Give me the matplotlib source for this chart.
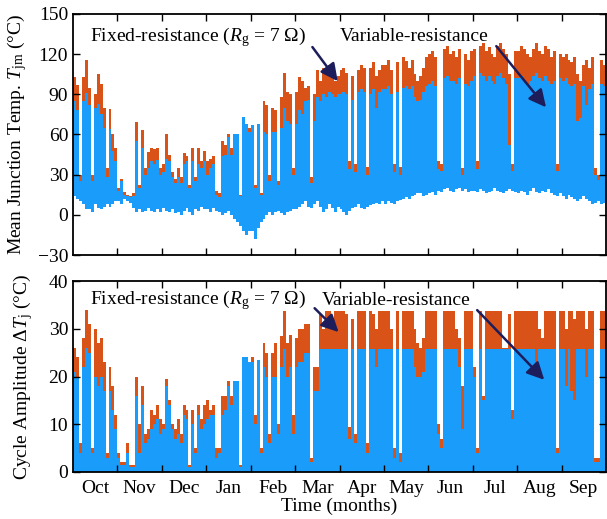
import numpy as np
import matplotlib.pyplot as plt

plt.rcParams['font.family'] = ['Liberation Serif', 'DejaVu Serif']
plt.rcParams['mathtext.fontset'] = 'custom'
plt.rcParams['mathtext.rm'] = 'Liberation Serif'
plt.rcParams['mathtext.it'] = 'Liberation Serif:italic'
plt.rcParams['font.size'] = 14

months = ['Oct', 'Nov', 'Dec', 'Jan', 'Feb', 'Mar',
          'Apr', 'May', 'Jun', 'Jul', 'Aug', 'Sep']

# 2-day peaks / troughs, 15 per month (Oct -> Sep)
tjm_fixed = [
    103, 97, 30, 103, 116, 95, 30, 90, 105, 98, 80, 35, 79, 60, 50,
    20, 27, 17, 15, 14, 16, 69, 22, 63, 35, 47, 50, 49, 50, 35,
    38, 60, 45, 32, 27, 35, 28, 46, 44, 22, 50, 28, 50, 40, 48,
    40, 42, 44, 18, 16, 55, 52, 60, 50, 60, 60, 15, 73, 68, 65,
    67, 22, 68, 16, 85, 82, 30, 80, 78, 25, 88, 106, 92, 90, 35,
    92, 103, 100, 95, 96, 28, 90, 108, 100, 110, 105, 112, 108, 100, 104,
    108, 110, 106, 40, 104, 38, 108, 112, 110, 36, 110, 114, 104, 108, 112,
    112, 116, 108, 38, 114, 36, 118, 115, 110, 116, 105, 100, 104, 110, 118,
    120, 122, 118, 40, 38, 124, 126, 120, 122, 118, 124, 35, 120, 116, 122,
    124, 40, 126, 128, 122, 125, 120, 118, 126, 128, 124, 120, 105, 38, 122,
    122, 126, 124, 120, 118, 124, 128, 122, 120, 126, 124, 118, 122, 38, 120,
    118, 120, 116, 114, 118, 105, 100, 112, 116, 110, 118, 35, 30, 116, 112]
tjm_var = [
    85, 78, 25, 85, 91, 82, 25, 80, 83, 75, 65, 28, 64, 48, 40,
    18, 25, 15, 14, 13, 14, 55, 20, 50, 30, 35, 40, 38, 41, 30,
    32, 42, 40, 28, 24, 28, 24, 38, 40, 20, 40, 25, 38, 35, 40,
    30, 35, 38, 15, 13, 44, 45, 58, 45, 60, 60, 14, 73, 68, 62,
    67, 20, 68, 15, 62, 60, 25, 62, 62, 22, 65, 80, 70, 68, 30,
    68, 78, 75, 85, 86, 24, 70, 88, 85, 90, 88, 92, 90, 88, 90,
    90, 92, 90, 34, 86, 32, 92, 94, 92, 30, 90, 94, 80, 92, 94,
    94, 96, 90, 32, 92, 30, 95, 96, 94, 96, 88, 85, 86, 92, 96,
    98, 100, 96, 34, 33, 102, 104, 100, 100, 98, 102, 30, 98, 96, 100,
    104, 34, 106, 104, 100, 104, 100, 98, 104, 106, 102, 98, 52, 33, 102,
    102, 104, 100, 98, 100, 104, 106, 102, 100, 104, 100, 98, 100, 33, 102,
    100, 102, 98, 96, 98, 70, 72, 96, 82, 94, 98, 30, 26, 98, 96]
tjm_low = [
    14, 12, 10, 8, 4, 4, 2, 8, 5, 4, 6, 8, 6, 8, 10,
    10, 8, 12, 10, 9, 5, 2, 4, 2, 3, 5, 3, 2, 4, 2,
    5, 3, 2, 4, 1, 2, 0, 3, 5, 2, 0, 4, 3, 6, 4,
    4, 2, 5, 3, 2, 0, 1, 3, 0, -3, -5, -8, -12, -15, -12,
    -12, -18, -10, -5, -3, 0, 2, 0, 2, 3, 1, 0, 2, 3, 4,
    4, 6, 8, 10, 6, 5, 8, 10, 6, 2, 4, 8, 5, 2, 6,
    4, 2, 0, 3, 5, 6, 8, 5, 4, 6, 7, 8, 9, 8, 10,
    8, 10, 9, 8, 10, 11, 12, 13, 12, 14, 15, 16, 16, 14, 15,
    16, 17, 15, 18, 17, 19, 20, 18, 17, 19, 20, 18, 19, 17, 18,
    18, 17, 19, 18, 16, 17, 18, 20, 18, 17, 16, 18, 19, 18, 17,
    16, 18, 17, 15, 18, 20, 17, 16, 18, 17, 19, 16, 15, 14, 16,
    14, 12, 15, 13, 12, 10, 12, 14, 12, 10, 8, 9, 10, 8, 9]

dtj_fixed = [
    26, 24, 6, 28, 34, 31, 5, 30, 27, 28, 23, 4, 22, 18, 12,
    4, 2, 2, 6, 1.5, 1.5, 20, 10, 18, 8, 9, 13, 12, 14, 11,
    10, 19.5, 15, 10, 9, 11, 8, 14, 13, 1.5, 13, 5, 14, 11, 14,
    15, 13, 14, 5, 5, 16, 16, 19, 16, 19, 19, 1.5, 24, 24, 23,
    24, 12, 23.5, 5, 27, 25, 8, 25, 27, 10, 28.5, 33.8, 27, 28.7, 12,
    28, 30, 30, 31, 31, 3, 22, 22, 33, 30, 33.8, 33.8, 32, 33.8, 33.8,
    33.8, 33.8, 33, 9.5, 32, 8, 33.8, 33.8, 33.8, 6, 33.8, 33, 30, 33.8, 33.8,
    33.8, 33.8, 30, 5, 33.8, 4, 33.8, 33.8, 33.8, 33.8, 30, 27, 26, 28, 33.8,
    33.8, 33.8, 33.8, 10, 7, 33.8, 33.8, 33.8, 33.8, 30, 28, 18, 33.8, 33.8, 33.8,
    22, 5, 33.8, 16, 33.8, 33.8, 33.8, 33.8, 33.8, 33.8, 26, 26, 33, 13, 33.8,
    33.8, 33.8, 33.8, 33.8, 33.8, 33.8, 33.8, 30, 28, 33.8, 33.8, 33.8, 33.8, 5, 33.8,
    33.8, 30, 33.8, 33.8, 32, 33.8, 33.8, 33.8, 30, 33.8, 33.8, 3, 3, 33.8, 33.8]
dtj_var = [
    21, 20, 4, 22, 26, 25, 4, 20, 18, 20, 17, 3, 17, 13, 9,
    3, 1.5, 1.5, 4, 1, 1, 16, 4, 14, 6, 7, 9, 10, 11, 8,
    9, 18, 14, 9, 7, 8, 6, 12, 11, 1, 10, 4, 12, 9, 10,
    11, 12, 12, 3, 4, 12, 13, 18, 14, 19, 19, 1, 24, 24, 23,
    23, 10, 23.5, 4, 22, 20, 6, 20, 20, 8, 22, 25.8, 20, 22, 8,
    22, 23, 23, 25, 25, 2, 17, 17, 25.8, 25.8, 25.8, 25.8, 25.8, 25.8, 25.8,
    25.8, 25.8, 25.8, 7, 25.8, 6, 25.8, 25.8, 25.8, 4, 25.8, 25.8, 22, 25.8, 25.8,
    25.8, 25.8, 25.8, 3, 25.8, 2, 25.8, 25.8, 25.8, 25.8, 22, 20, 20, 21, 25.8,
    25.8, 25.8, 25.8, 8, 5, 25.8, 25.8, 25.8, 25.8, 25.8, 22, 9, 25.8, 25.8, 25.8,
    20, 4, 25.8, 15, 25.8, 25.8, 25.8, 25.8, 25.8, 25.8, 25.8, 25.8, 25.8, 11, 25.8,
    25.8, 25.8, 25.8, 25.8, 25.8, 25.8, 21, 25.8, 25.8, 25.8, 25.8, 25.8, 25.8, 4, 25.8,
    25.8, 18, 25.8, 17, 15, 25.8, 25.8, 25.8, 20, 25.8, 25.8, 2, 2, 25.8, 25.8]

c_fixed = '#D95319'
c_var = '#1A9CFA'
c_arrow = '#1D1D5C'

edges = np.arange(len(tjm_fixed) + 1) / 15.0

fig = plt.figure(figsize=(6.07, 5.19), dpi=100)
ax1 = fig.add_axes([73/607, 1-255/519, 533/607, 241/519])
ax2 = fig.add_axes([73/607, 1-472/519, 533/607, 191/519])

# mean junction temperature
ax1.stairs(tjm_fixed, edges, baseline=tjm_low, fill=True, color=c_fixed, lw=0)
ax1.stairs(tjm_var, edges, baseline=tjm_low, fill=True, color=c_var, lw=0)
ax1.set_ylim(-30, 150)
ax1.set_yticks(np.arange(-30, 151, 30))
ax1.set_ylabel('Mean Junction Temp. $T_\\mathrm{jm}$ (°C)', labelpad=6)

# cycle amplitude
ax2.stairs(dtj_fixed, edges, baseline=0, fill=True, color=c_fixed, lw=0)
ax2.stairs(dtj_var, edges, baseline=0, fill=True, color=c_var, lw=0)
ax2.set_ylim(0, 40)
ax2.set_yticks(np.arange(0, 41, 10))
ax2.set_ylabel('Cycle Amplitude Δ$T_\\mathrm{j}$ (°C)', labelpad=10)
ax2.set_xlabel('Time (months)', labelpad=0)

for ax in (ax1, ax2):
    ax.set_xlim(0, 12)
    ax.set_xticks(np.arange(1, 12))
    ax.set_xticklabels([])
    ax.tick_params(direction='in', top=True, right=True, length=5, width=1, labelsize=14)
    for sp in ax.spines.values():
        sp.set_linewidth(1.3)

ax2.set_xticks(np.arange(12) + 0.5, minor=True)
ax2.set_xticklabels(months, minor=True)
ax2.tick_params(axis='x', which='minor', length=0, pad=6, labelsize=14)

# annotations
ax1.text(0.38, 133, 'Fixed-resistance ($R_\\mathrm{g}$ = 7 Ω)', va='center', ha='left')
ax1.text(6.0, 133, 'Variable-resistance', va='center', ha='left')
ax2.text(0.38, 36.0, 'Fixed-resistance ($R_\\mathrm{g}$ = 7 Ω)', va='center', ha='left')
ax2.text(5.6, 36.0, 'Variable-resistance', va='center', ha='left')

arr = dict(arrowstyle='-|>', color=c_arrow, lw=1.8, mutation_scale=26, shrinkA=0, shrinkB=0)
ax1.annotate('', xy=(5.96, 99.8), xytext=(5.39, 125.3), arrowprops=arr)
ax1.annotate('', xy=(10.65, 80.3), xytext=(9.53, 126), arrowprops=arr)
ax2.annotate('', xy=(5.98, 29.3), xytext=(5.44, 34.3), arrowprops=arr)
ax2.annotate('', xy=(10.61, 19.3), xytext=(9.10, 33.9), arrowprops=arr)

fig.savefig('out.png', dpi=100)
